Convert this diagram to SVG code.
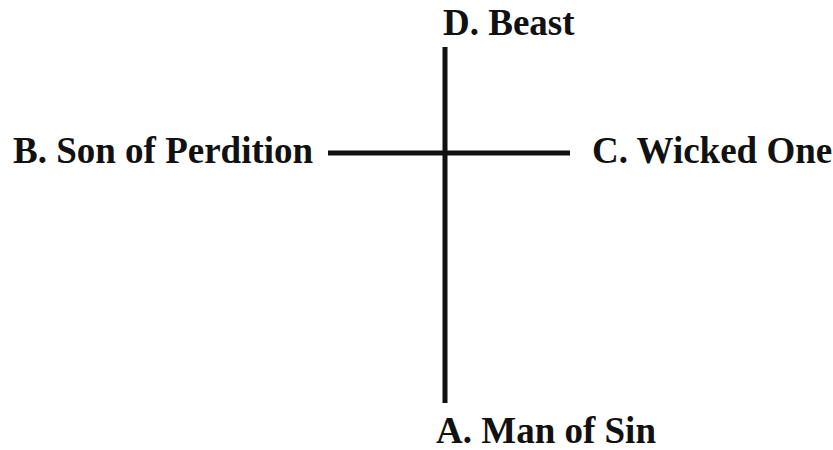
<svg xmlns="http://www.w3.org/2000/svg" width="833" height="450" viewBox="0 0 833 450">
<style>
.t{font-family:"Liberation Serif","Times New Roman",serif;font-weight:bold;font-size:37px;fill:#111}
.l{stroke:#111;stroke-width:5;fill:none}
</style>
<rect width="833" height="450" fill="#fff"/>
<g id="connectors">
<line class="l" x1="445" y1="47" x2="445" y2="403"/>
<line class="l" x1="328" y1="153" x2="570" y2="153"/>
</g>
<g id="nodeD"><text class="t" x="443" y="35">D. Beast</text></g>
<g id="nodeB"><text class="t" x="13" y="163">B. Son of Perdition</text></g>
<g id="nodeC"><text class="t" x="592" y="163">C. Wicked One</text></g>
<g id="nodeA"><text class="t" x="436" y="443">A. Man of Sin</text></g>
</svg>
